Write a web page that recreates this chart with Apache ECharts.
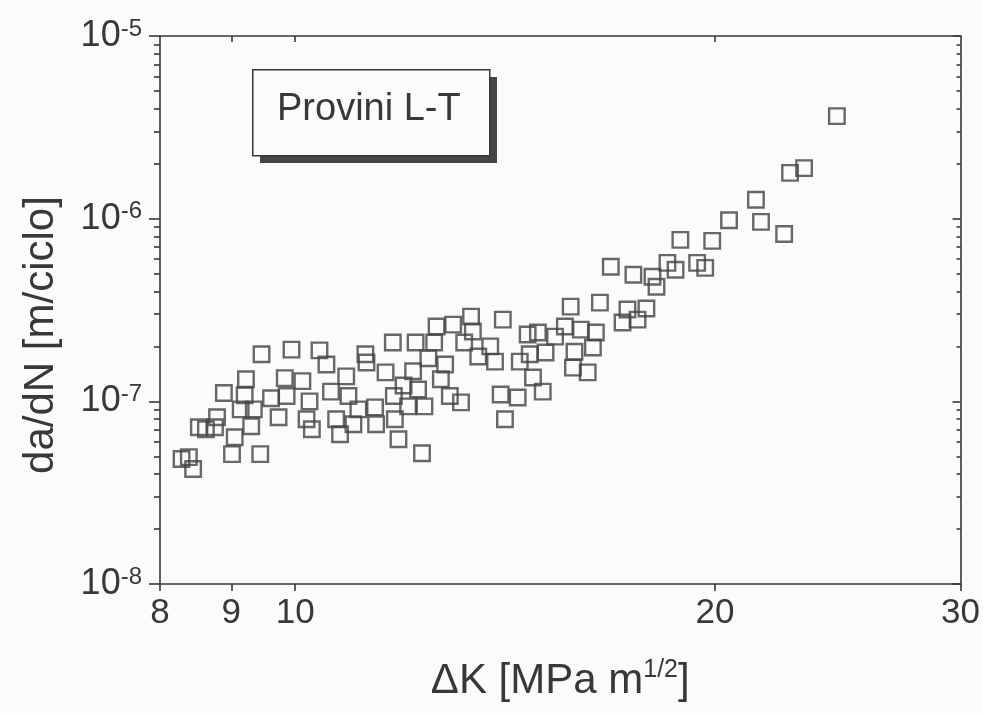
<!DOCTYPE html>
<html style="height: 100%">
<head>
    <title>da/dN - ΔK</title>
    <meta charset="utf-8">
    <script src="https://cdn.jsdelivr.net/npm/echarts@6/dist/echarts.min.js"></script>
</head>
<body style="height: 100%; margin: 0; background: #fbfbfb">
<div id="container" style="width: 983px; height: 713px"></div>
<script type="text/javascript">
    // dati: ΔK [MPa m^1/2] e da/dN [m/ciclo]
    var deltaK = [
        8.29, 8.39, 8.45, 8.53, 8.63, 8.76, 8.79, 8.89, 9.01, 9.05,
        9.14, 9.20, 9.22, 9.30, 9.34, 9.44, 9.46, 9.61, 9.73, 9.83,
        9.86, 9.94, 10.12, 10.19, 10.24, 10.28, 10.41, 10.53, 10.61, 10.70,
        10.77, 10.88, 10.92, 11.01, 11.10, 11.23, 11.25, 11.41, 11.43, 11.61,
        11.75, 11.77, 11.79, 11.86, 11.96, 12.05, 12.15, 12.20, 12.25, 12.33,
        12.38, 12.46, 12.58, 12.63, 12.72, 12.81, 12.91, 12.98, 13.15, 13.22,
        13.37, 13.41, 13.53, 13.80, 13.91, 14.04, 14.09, 14.14, 14.44, 14.49,
        14.68, 14.73, 14.93, 14.81, 15.05, 15.12, 15.36, 15.61, 15.76, 15.86,
        15.82, 16.03, 16.43, 16.35, 16.21, 16.54, 17.17, 17.31, 17.60, 17.86,
        16.84, 17.48, 18.04, 18.16, 18.49, 18.74, 19.42, 19.68, 18.89, 19.91,
        20.47, 21.40, 21.58, 22.42, 22.64, 23.17, 24.46
    ];
    var dadN = [
        4.83e-8, 4.95e-8, 4.26e-8, 7.21e-8, 7.04e-8, 7.21e-8, 8.18e-8, 1.11e-7, 5.14e-8, 6.36e-8,
        9.04e-8, 1.08e-7, 1.32e-7, 7.30e-8, 9.04e-8, 5.14e-8, 1.81e-7, 1.04e-7, 8.18e-8, 1.34e-7,
        1.07e-7, 1.92e-7, 1.29e-7, 7.98e-8, 1.00e-7, 7.04e-8, 1.90e-7, 1.59e-7, 1.13e-7, 7.98e-8,
        6.61e-8, 1.37e-7, 1.07e-7, 7.49e-8, 9.04e-8, 1.81e-7, 1.63e-7, 9.27e-8, 7.49e-8, 1.44e-7,
        2.10e-7, 1.07e-7, 7.98e-8, 6.20e-8, 1.22e-7, 9.39e-8, 1.46e-7, 2.10e-7, 1.16e-7, 5.20e-8,
        9.39e-8, 1.72e-7, 2.10e-7, 2.57e-7, 1.32e-7, 1.59e-7, 1.07e-7, 2.63e-7, 9.87e-8, 2.10e-7,
        2.91e-7, 2.41e-7, 1.76e-7, 2.00e-7, 1.65e-7, 1.09e-7, 2.80e-7, 7.98e-8, 1.05e-7, 1.65e-7,
        2.32e-7, 1.81e-7, 2.38e-7, 1.35e-7, 1.13e-7, 1.85e-7, 2.26e-7, 2.57e-7, 3.30e-7, 1.87e-7,
        1.53e-7, 2.47e-7, 2.38e-7, 1.97e-7, 1.44e-7, 3.47e-7, 2.70e-7, 3.18e-7, 2.80e-7, 3.22e-7,
        5.45e-7, 4.93e-7, 4.81e-7, 4.24e-7, 5.73e-7, 5.25e-7, 5.73e-7, 5.38e-7, 7.65e-7, 7.56e-7,
        9.80e-7, 1.27e-6, 9.60e-7, 8.25e-7, 1.78e-6, 1.89e-6, 3.64e-6
    ];
    var xTickLabels = [8, 9, 10, 20, 30];
    var xTopTicks = [9, 10, 20];
    var yDecades = [-8, -7, -6, -5];
    var yMinorSteps = [2, 3, 4, 5, 6, 7, 8, 9];
    var legendText = 'Provini L-T';

    var dom = document.getElementById('container');
    var myChart = echarts.init(dom);

    var ink = '#383838';
    var font = 'Liberation Sans, Arial, sans-serif';
    var lg = function (v) { return Math.log(v) / Math.LN10; };
    var xMin = 8, xMax = 30;

    // tacche secondarie 2..9 di ogni decade
    var yMinor = [];
    yDecades.slice(0, -1).forEach(function (e) {
        yMinorSteps.forEach(function (m) { yMinor.push(e + lg(m)); });
    });

    var points = deltaK.map(function (k, i) { return [k, dadN[i]]; });

    var lineStyle = {color: ink, width: 1.6};

    myChart.setOption({
        backgroundColor: '#fbfbfb',
        animation: false,
        grid: {left: 160, right: 19, top: 36, bottom: 129},
        xAxis: [
            {
                // asse logaritmico per i punti
                type: 'log', logBase: 10, min: xMin, max: xMax, position: 'bottom',
                axisLine: {show: true, onZero: false, lineStyle: lineStyle},
                axisTick: {show: false}, axisLabel: {show: false}, splitLine: {show: false}
            },
            {
                type: 'value', min: lg(xMin), max: lg(xMax), position: 'bottom',
                axisLine: {show: false, onZero: false},
                axisTick: {show: true, inside: false, length: 7, customValues: xTickLabels.map(lg), lineStyle: lineStyle},
                axisLabel: {
                    customValues: xTickLabels.map(lg), margin: 12,
                    color: ink, fontSize: 35, fontFamily: font,
                    formatter: function (v) { return String(Math.round(Math.pow(10, v))); }
                },
                splitLine: {show: false},
                name: '{a|ΔK [MPa m}{s|1/2}{a|]}',
                nameLocation: 'middle', nameGap: 74,
                nameTextStyle: {
                    rich: {
                        a: {fontSize: 42, fontFamily: font, color: ink, lineHeight: 46},
                        s: {fontSize: 25, fontFamily: font, color: ink, verticalAlign: 'top', lineHeight: 46}
                    }
                }
            },
            {
                type: 'value', min: lg(xMin), max: lg(xMax), position: 'top',
                axisLine: {show: true, onZero: false, lineStyle: lineStyle},
                axisTick: {show: true, inside: true, length: 6, customValues: xTopTicks.map(lg), lineStyle: lineStyle},
                axisLabel: {show: false}, splitLine: {show: false}
            }
        ],
        yAxis: [
            {
                type: 'log', logBase: 10, min: 1e-8, max: 1e-5, position: 'left',
                axisLine: {show: true, onZero: false, lineStyle: lineStyle},
                axisTick: {show: false}, axisLabel: {show: false}, splitLine: {show: false},
                name: 'da/dN [m/ciclo]', nameLocation: 'middle', nameRotate: 90, nameGap: 98,
                nameTextStyle: {fontSize: 42, fontFamily: font, color: ink, padding: [0, 50, 0, 0]}
            },
            {
                type: 'value', min: -8, max: -5, position: 'left',
                axisLine: {show: false, onZero: false},
                axisTick: {show: true, inside: false, length: 11, customValues: yDecades, lineStyle: lineStyle},
                axisLabel: {
                    customValues: yDecades, margin: 18,
                    formatter: function (v) { return '{b|10}{s|' + Math.round(v) + '}'; },
                    rich: {
                        b: {fontSize: 36, fontFamily: font, color: ink, lineHeight: 38},
                        s: {fontSize: 24, fontFamily: font, color: ink, verticalAlign: 'top', lineHeight: 38}
                    }
                },
                splitLine: {show: false}
            },
            {
                type: 'value', min: -8, max: -5, position: 'left',
                axisLine: {show: false, onZero: false},
                axisTick: {show: true, inside: false, length: 6, customValues: yMinor, lineStyle: lineStyle},
                axisLabel: {show: false}, splitLine: {show: false}
            },
            {
                type: 'value', min: -8, max: -5, position: 'right',
                axisLine: {show: true, onZero: false, lineStyle: lineStyle},
                axisTick: {show: true, inside: true, length: 8, customValues: yDecades, lineStyle: lineStyle},
                axisLabel: {show: false}, splitLine: {show: false}
            },
            {
                type: 'value', min: -8, max: -5, position: 'right',
                axisLine: {show: false, onZero: false},
                axisTick: {show: true, inside: true, length: 4, customValues: yMinor, lineStyle: lineStyle},
                axisLabel: {show: false}, splitLine: {show: false}
            }
        ],
        graphic: [
            {type: 'rect', left: 260, top: 77, shape: {width: 237, height: 86}, style: {fill: '#454545'}},
            {type: 'rect', left: 252, top: 69, shape: {width: 237, height: 86}, style: {fill: '#fbfbfb', stroke: ink, lineWidth: 1.5}},
            {
                type: 'text', left: 277, top: 91,
                style: {text: legendText, fontSize: 38, fontFamily: font, fill: ink}
            }
        ],
        series: [
            {
                name: legendText,
                type: 'scatter',
                xAxisIndex: 0, yAxisIndex: 0,
                symbol: 'rect', symbolSize: 15.5,
                itemStyle: {color: 'rgba(0,0,0,0)', borderColor: '#444444', borderWidth: 2.4},
                emphasis: {disabled: true},
                data: points
            }
        ]
    });
</script>
</body>
</html>
